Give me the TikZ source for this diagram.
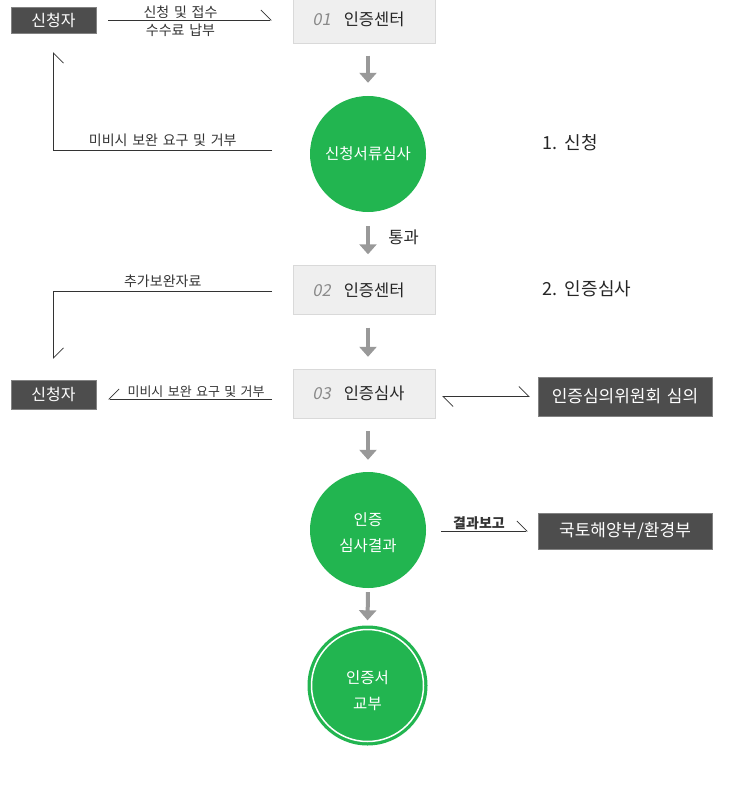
\documentclass[tikz,border=0pt]{standalone}
\usepackage{fontspec}
\setmainfont{Noto Sans CJK KR}[WordSpace=1.5]
\newfontfamily\slantfont[FakeSlant=0.2]{Noto Sans CJK KR}
\usetikzlibrary{arrows.meta,positioning,calc}

\definecolor{darkbox}{HTML}{4D4D4D}
\definecolor{lightbox}{HTML}{EFEFEF}
\definecolor{lightedge}{HTML}{D9D9D9}
\definecolor{stepgreen}{HTML}{22B550}
\definecolor{flowgray}{HTML}{999999}
\definecolor{linegray}{HTML}{333333}
\definecolor{numgray}{HTML}{8A8A8A}

\newcommand{\stagenum}[1]{{\slantfont\color{numgray}#1}\hspace{13pt}}

\begin{document}
\begin{tikzpicture}[x=1pt, y=-1pt]
        % Define styles
        \tikzset{
            outbox/.style={draw=darkbox!70!white, fill=darkbox, text=white, inner sep=0pt, font=\fontsize{16}{19}\selectfont},
            stagebox/.style={draw=lightedge, fill=lightbox, text=black!85, minimum width=142pt, minimum height=49pt, inner sep=0pt, font=\fontsize{16.5}{19}\selectfont},
            stepcirc/.style={circle, fill=stepgreen, text=white, minimum size=116pt, inner sep=0pt, align=center, font=\fontsize{15.5}{26}\selectfont},
            flow/.style={-{Triangle[length=10pt, width=17pt]}, flowgray, line width=4pt},
            harp/.style={-{Straight Barb[harpoon, length=10pt, width=20pt]}, linegray, line width=0.8pt},
            harpsw/.style={-{Straight Barb[harpoon, swap, length=10pt, width=20pt]}, linegray, line width=0.8pt},
            lbl/.style={text=linegray, font=\fontsize{14}{16}\selectfont, inner sep=1.5pt},
            phase/.style={anchor=west, text=black!85, font=\fontsize{18}{21}\selectfont}
        }
        \useasboundingbox (0,0) rectangle (750,805);

        % Place nodes
        \node[outbox, minimum width=85pt, minimum height=26pt] (app1) at (53.5,20) {신청자};
        \node[stagebox] (c01) at (364,19) {\stagenum{01}인증센터\kern11pt};
        \node[stepcirc] (circ1) at (368,154) {신청서류심사};
        \node[stagebox] (c02) at (364,290) {\stagenum{02}인증센터\kern11pt};
        \node[stagebox] (c03) at (364,393.5) {\stagenum{03}인증심사\kern11pt};
        \node[outbox, minimum width=85pt, minimum height=29pt] (app2) at (53.5,394.5) {신청자};
        \node[outbox, minimum width=174pt, minimum height=39pt, font=\fontsize{17}{20}\selectfont] (council) at (625,396.5) {인증심의위원회 심의};
        \node[stepcirc] (circ2) at (368,530) {\raisebox{-3pt}[\height][\depth]{\shortstack{인증\\[9pt]심사결과}}};
        \node[outbox, minimum width=174pt, minimum height=36pt, font=\fontsize{17}{20}\selectfont] (ministry) at (625,531) {국토해양부/환경부};
        \node[stepcirc, minimum size=120pt] (cert) at (367.5,685.5) {\raisebox{-5pt}[\height][\depth]{\shortstack{인증서\\[9pt]교부}}};
        \node[phase] (ph1) at (539,143) {1. 신청};
        \node[phase] (ph2) at (539,289) {2. 인증심사};
        \coordinate (ret1) at (272,150);
        \coordinate (ret2) at (272,291);
        \coordinate (ret3) at (272,399);

        % Inner ring of the last step
        \draw[white, line width=1.5pt] (cert.center) circle[radius=56pt];

        % Draw arrows
        \draw[flow, shorten <=12pt, shorten >=13pt] (circ1 |- c01.south) -- (circ1.north);
        \draw[flow, shorten <=14pt, shorten >=11pt] (circ1.south) -- node[right, xshift=15pt, yshift=1pt, text=black!85, font=\fontsize{16.5}{19}\selectfont] {통과} (circ1.south |- c02.north);
        \draw[flow, shorten <=13pt, shorten >=12pt] (circ1 |- c02.south) -- (circ1 |- c03.north);
        \draw[flow, shorten <=13pt, shorten >=12pt] (circ1 |- c03.south) -- (circ2.north);
        \draw[flow, shorten <=4pt, shorten >=5pt] (circ2.south) -- (cert.north);

        \draw[harp, shorten <=12pt, shorten >=21pt] (app1.east) -- node[lbl, above, xshift=-14pt] {신청 및 접수} node[lbl, below, inner sep=4pt, xshift=-14pt] {수수료 납부} (app1.east -| c01.west);
        \draw[harpsw, shorten >=19pt] (ret1) -- node[lbl, above, pos=0.5, inner sep=3pt] {미비시 보완 요구 및 거부} (ret1 -| app1.south) -- (app1.south);
        \draw[harp, shorten >=21pt] (ret2) -- node[lbl, above, inner sep=3pt] {추가보완자료} (ret2 -| app2.north) -- (app2.north);
        \draw[harpsw, shorten >=12pt] (ret3) -- node[lbl, above, xshift=12pt, font=\fontsize{13}{15}\selectfont] {미비시 보완 요구 및 거부} (ret3 -| app2.east);
        \draw[{Straight Barb[harpoon, length=10pt, width=20pt]}-{Straight Barb[harpoon, length=10pt, width=20pt]}, linegray, line width=0.8pt, shorten <=7pt, shorten >=8pt] (c03.east |- council.west) -- (council.west);
        \draw[harp, shorten <=15pt, shorten >=10pt] (circ2.east |- ministry.west) -- node[lbl, above, inner sep=1pt, xshift=-3pt, font=\bfseries\fontsize{14}{16}\selectfont] {결과보고} (ministry.west);
\end{tikzpicture}
\end{document}
